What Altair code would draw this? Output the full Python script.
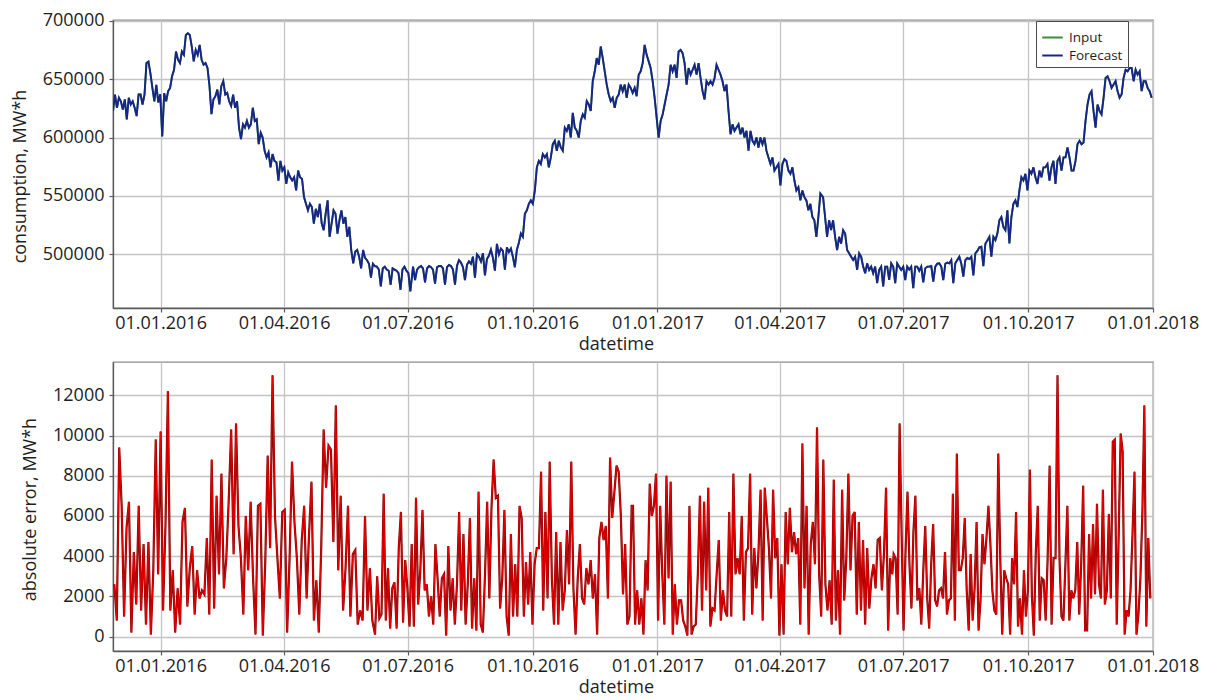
import altair as alt
import pandas as pd

# ---------------- data ----------------
# daily consumption, thousand MW*h, three consecutive stretches
cons_a_range = ("2015-11-27", "2016-07-03")
cons_a = [622.7, 636.8, 625.5, 634, 631, 624, 632.6, 615.6, 634, 628.3, 631, 625.5, 618.4,
          636.8, 636.8, 628.3, 636.8, 663.7, 665, 655, 642.5, 631, 645, 630, 637, 601, 638,
          631, 639.7, 642.5, 652.4, 658, 673.6, 666.6, 663.7, 673.6, 670.8, 687.8, 689.2,
          687.8, 677.9, 665.2, 675, 670.8, 679.3, 666.6, 662.3, 663.7, 659.5, 644, 620,
          632.6, 635.4, 641, 628.3, 644, 648.2, 636.8, 638.2, 631, 627, 636.8, 625.5, 631,
          608.5, 598.6, 611.3, 608.5, 614.2, 608.5, 611.3, 625.5, 614.2, 615.6, 594.3, 604.2,
          600, 588.7, 583, 587.2, 574.5, 585.8, 580, 578.8, 563.2, 580, 571.7, 574.5, 560.3,
          570.2, 566, 563.2, 566, 554.7, 571.7, 566, 564.6, 549, 543.3, 537.7, 543.3, 540.5,
          526.3, 539, 532, 543.3, 526.3, 520.7, 534.8, 546.2, 515, 526.3, 537.7, 534.8, 517.8,
          529.2, 537.7, 526.3, 532, 515, 523.5, 503.7, 492.3, 502.2, 503.7, 498, 488, 503.7,
          497, 495, 492, 480, 492, 490, 489.5, 487, 472.5, 488, 489.5, 487, 486, 474, 488,
          487, 486, 484, 469.7, 487, 489.5, 486, 484, 468.3]

cons_b_range = ("2016-07-05", "2017-05-01")
cons_b = [489.5, 478, 487, 489, 490, 488, 476, 488, 490, 489, 487, 475, 489, 490, 490, 488,
          474, 489, 491, 490, 487, 474, 490, 495, 493, 489, 478, 491, 494, 492, 498, 480,
          500, 498, 494, 501, 482, 496, 499, 504, 497, 486, 509, 500, 505, 503, 487, 506,
          502, 505, 498, 489, 504, 510, 517.8, 515, 534.8, 537.7, 543.3, 546.2, 543.3, 554.7,
          574.5, 580, 577.3, 585.8, 583, 585.8, 574.5, 583, 594.3, 597.2, 588.7, 597.2, 591.5,
          588.7, 608.5, 605.7, 611.3, 600, 621.2, 608.5, 605.7, 600, 614.2, 619.8, 617, 631.2,
          628.3, 622.7, 648.2, 656.7, 668, 662.3, 677.9, 668, 656.7, 645.3, 636.8, 631.2, 634,
          625.5, 634, 636.8, 645.3, 639.7, 645.3, 634, 645.3, 642.5, 638.2, 642.5, 635.4,
          653.8, 656.7, 663.7, 679.3, 670.8, 665.2, 659.5, 648.2, 634, 617, 600, 614.2, 619.8,
          628.3, 636.8, 645.3, 662.3, 656.7, 662.3, 651, 673.6, 675, 672.2, 663.7, 645.3,
          659.5, 653.8, 658, 662.3, 653.8, 663.7, 651, 639.7, 632.6, 648.2, 645.3, 648.2,
          645.3, 651, 662.3, 658, 653.8, 648.2, 639.7, 645.3, 622.7, 602.8, 611.3, 605.7,
          608.5, 611.3, 602.8, 608.5, 600, 605.7, 588.7, 605.7, 597.2, 594.3, 600, 591.5, 600,
          594.3, 600, 588.7, 583, 577.3, 583, 571.7, 574.5, 577.3, 559, 577.3, 581.5, 580,
          571.7, 569, 574.5, 563.2, 554.7, 557.5, 546.2, 554.7, 549, 546.2, 537.7, 543.3, 532,
          529.2, 515, 532, 552]

cons_c_range = ("2017-05-03", "2017-12-31")
cons_c = [549, 532, 515, 529.2, 520.7, 529.2, 515, 503.7, 515, 509.3, 520.7, 517.8, 503.7,
          500.9, 498, 495.2, 498, 486.7, 500.9, 498, 489.5, 483.8, 492.3, 486.7, 489.5, 483.8,
          489.5, 475.3, 486.7, 489.5, 472.5, 489.5, 489.5, 478.2, 492.3, 489.5, 475.3, 492.3,
          489.5, 486.7, 489.5, 478, 489.5, 487, 489.5, 471, 489.5, 489.5, 486, 489.5, 476,
          488, 489.5, 489.5, 490, 476.7, 489.5, 492, 492.3, 489.5, 478, 492, 493, 492.3, 495.2,
          475.3, 492.3, 495.2, 498, 492, 481, 495, 497, 496, 498, 482, 500.9, 503, 506, 506.5,
          490, 509, 512, 515, 498, 515, 512.2, 517.8, 529.2, 532, 523.5, 520.7, 537.7, 509.3,
          532, 543.3, 546.2, 540.5, 554.7, 566, 563.2, 569, 554.7, 571.7, 569, 574.5, 566,
          560.3, 571.7, 566, 574.5, 574.5, 577.3, 563.2, 574.5, 580, 560.3, 580, 583, 571.7,
          583, 583, 591.5, 583, 571.7, 571.7, 580, 594.3, 597.2, 594.3, 595.7, 614.2, 628.3,
          636.8, 639.7, 622.7, 608.5, 628.3, 622.7, 619.8, 634, 651, 652.4, 648.2, 642.5, 645.3,
          648.2, 639.7, 634, 636.8, 651, 658, 656.7, 659.5, 659.5, 648.2, 658, 653.8, 656.7,
          639.7, 648.2, 648.2, 642.5, 639.7, 634]

# absolute error, thousand MW*h, four consecutive stretches
err_1_range = ("2015-11-28", "2016-06-05")
err_1 = [2.6, 0.8, 9.4, 6.5, 1.0, 5.4, 6.7, 0.2, 4.2, 1.6, 6.5, 1.3, 4.6, 0.6, 4.7, 0.1, 3.3,
         9.8, 3.1, 10.2, 1.3, 5.5, 12.2, 1.3, 3.3, 0.2, 2.4, 0.6, 5.7, 6.4, 1.5, 3.4, 4.5, 1.1,
         3.3, 1.9, 2.3, 2.1, 4.9, 1.1, 8.8, 1.4, 7.0, 3.1, 8.1, 2.4, 3.9, 6.8, 10.3, 4.1, 10.6,
         5.5, 3.9, 1.1, 6.0, 3.3, 6.7, 2.9, 0.1, 6.5, 6.6, 0.05, 3.7, 9.0, 4.4, 13.0, 6.0, 3.9,
         1.9, 6.2, 6.3, 0.2, 3.9, 8.7, 5.7, 3.9, 1.1, 4.8, 6.5, 1.9, 5.1, 7.7, 0.8, 2.8, 0.2,
         4.4, 10.3, 7.4, 9.5, 9.3, 4.7, 11.5, 3.3, 7.0, 1.3, 3.4, 6.5, 1.0, 4.1, 4.3, 0.6, 1.3,
         0.8, 6.0, 1.3, 3.4, 0.8]

err_2_range = ("2016-06-07", "2016-12-13")
err_2 = [0.1, 3.0, 0.9, 1.1, 7.1, 0.8, 3.4, 0.4, 2.4, 2.7, 0.4, 4.4, 6.2, 0.7, 3.8, 2.4, 0.5,
         4.6, 0.5, 6.9, 1.6, 3.3, 6.3, 2.3, 2.6, 1.0, 2.0, 0.6, 4.6, 2.9, 1.0, 2.9, 3.1, 0.05,
         4.5, 1.3, 2.9, 0.6, 2.6, 6.2, 1.3, 5.1, 0.6, 2.6, 5.9, 0.4, 2.9, 0.3, 7.2, 0.6, 0.2,
         3.1, 6.7, 1.9, 6.4, 8.8, 6.9, 7.0, 1.4, 2.9, 6.3, 1.0, 0.05, 5.1, 1.0, 3.6, 1.0, 6.5,
         5.9, 1.0, 3.7, 1.6, 4.2, 0.6, 3.6, 4.4, 4.4, 8.2, 1.3, 6.2, 1.9, 8.7, 2.9, 0.6, 5.2,
         0.6, 4.7, 1.3, 2.3, 5.3, 2.6, 8.7, 2.4, 0.1, 2.9, 4.6, 1.9, 1.6, 3.4, 2.6, 3.8, 1.9,
         3.1, 0.1, 4.9, 5.7, 4.8, 5.5, 1.9, 8.9, 5.9, 7.2, 8.5, 8.2, 6.0, 2.1, 4.6, 0.6, 1.0,
         6.5]

err_3_range = ("2016-12-14", "2017-06-23")
err_3 = [6.5, 0.6, 2.3, 0.6, 1.9, 0.1, 3.8, 2.3, 7.6, 6.0, 6.5, 8.1, 0.8, 6.5, 3.1, 0.6, 8.0,
         2.9, 7.7, 0.1, 2.6, 0.6, 1.8, 1.8, 0.8, 0.5, 0.05, 6.5, 0.1, 0.5, 0.6, 3.1, 7.0, 1.3,
         6.7, 2.3, 7.4, 0.5, 1.4, 1.3, 3.1, 4.8, 0.8, 2.3, 1.3, 1.0, 6.2, 1.0, 8.1, 3.1, 3.9,
         3.1, 6.0, 0.8, 4.2, 4.4, 8.1, 1.1, 4.4, 2.4, 4.2, 7.3, 0.8, 7.4, 5.9, 4.4, 1.9, 7.3,
         3.9, 4.9, 0.05, 3.6, 0.1, 6.2, 3.6, 6.4, 4.2, 5.2, 4.1, 4.9, 0.6, 9.6, 2.4, 6.5, 0.1,
         4.6, 5.7, 3.6, 10.4, 3.1, 1.0, 8.8, 2.6, 1.3, 2.8, 0.6, 7.8, 0.8, 3.3, 0.1, 7.3, 1.8,
         3.9, 8.1, 3.3, 6.0, 6.2, 1.1, 5.7, 1.3, 4.8, 0.6, 4.4, 1.4, 2.9, 3.6, 2.4, 4.8, 4.9,
         2.3, 4.1, 7.4, 0.3, 3.9, 3.1]

err_4_range = ("2017-06-24", "2017-12-30")
err_4 = [4.1, 3.9, 1.1, 10.6, 5.2, 0.3, 4.2, 7.2, 3.6, 1.4, 5.2, 7.0, 1.8, 2.4, 0.6, 3.3, 5.5,
         1.9, 0.4, 3.6, 5.6, 1.8, 1.5, 2.3, 2.4, 1.9, 4.2, 1.1, 1.8, 1.9, 7.1, 0.8, 9.1, 3.3,
         3.3, 3.9, 5.9, 2.3, 0.3, 4.1, 0.8, 2.4, 5.7, 0.3, 1.8, 5.1, 3.6, 4.9, 6.5, 4.6, 2.3,
         1.3, 1.1, 9.1, 3.9, 0.1, 3.3, 2.9, 2.6, 0.1, 3.9, 2.6, 6.2, 0.5, 1.9, 0.1, 3.3, 1.0,
         2.3, 8.3, 2.1, 0.05, 4.2, 6.5, 0.8, 2.9, 2.8, 0.8, 3.9, 8.5, 0.6, 3.9, 3.9, 13.0, 3.9,
         1.0, 0.8, 3.6, 6.5, 0.8, 2.3, 1.9, 2.3, 4.7, 1.1, 3.6, 7.5, 0.3, 0.3, 5.1, 1.9, 5.6,
         2.1, 6.6, 2.6, 1.9, 7.3, 1.6, 2.3, 6.1, 1.9, 9.7, 9.8, 0.6, 5.1, 10.1, 9.2, 0.1, 1.3,
         1.0, 2.3, 5.1, 8.2, 0.1, 1.1, 2.9, 6.2, 11.5, 0.5, 4.9, 1.9]

series_names = ["Input", "Forecast"]
series_colors = ["#3c8c3c", "#17258a"]
cons_ticks = [500000, 550000, 600000, 650000, 700000]
err_ticks = [0, 2000, 4000, 6000, 8000, 10000, 12000]
quarter_ticks = [(2016, 1), (2016, 4), (2016, 7), (2016, 10), (2017, 1), (2017, 4),
                 (2017, 7), (2017, 10), (2018, 1)]


def stretch(rng, vals):
    dates = pd.date_range(rng[0], rng[1], periods=len(vals))
    return pd.DataFrame({"date": dates, "value": [v * 1000 for v in vals]})


cons = pd.concat([stretch(cons_a_range, cons_a), stretch(cons_b_range, cons_b),
                  stretch(cons_c_range, cons_c)], ignore_index=True)
# the two series coincide at the drawn resolution
cons_long = pd.concat([cons.assign(series=s) for s in series_names], ignore_index=True)
err = pd.concat([stretch(err_1_range, err_1), stretch(err_2_range, err_2),
                 stretch(err_3_range, err_3), stretch(err_4_range, err_4)],
                ignore_index=True)

# ---------------- chart ----------------
FONT = "Open Sans"
TXT = "#1e1e1e"
x_domain = [alt.DateTime(year=2015, month=11, date=27), alt.DateTime(year=2018, month=1, date=1)]
x_values = [alt.DateTime(year=y, month=m, date=1) for y, m in quarter_ticks]


def x_enc():
    return alt.X("date:T", scale=alt.Scale(domain=x_domain),
                 axis=alt.Axis(values=x_values, format="%d.%m.%Y", title="datetime",
                               titleX=503, labelFlush=False, labelOverlap=False,
                               labelPadding=2, titlePadding=3))


y_top = alt.Y("value:Q", scale=alt.Scale(domain=[454100, 700600], nice=False, zero=False),
              axis=alt.Axis(values=cons_ticks, format="d", title="consumption, MW*h",
                            labelFlush=False, labelOverlap=False, titlePadding=13,
                            titleY=156))

color_enc = alt.Color(
    "series:N",
    scale=alt.Scale(domain=series_names, range=series_colors),
    legend=alt.Legend(title=None, orient="none", legendX=923, legendY=1,
                      symbolType="stroke", symbolSize=420, symbolStrokeWidth=2,
                      labelFontSize=13.5, labelFont=FONT, labelColor=TXT,
                      labelExpr="datum.label + '\u2003\u2003\u2003\u2003\u2003\u2003'",
                      labelLimit=300,
                      strokeColor="#4a4a4a", fillColor="white", padding=5,
                      rowPadding=0, labelOffset=5))

base_top = alt.Chart(cons_long).mark_line(strokeWidth=1.9, clip=True).encode(
    x=x_enc(), y=y_top, color=color_enc)
input_line = base_top.transform_filter(alt.datum.series == "Input")
forecast_line = base_top.transform_filter(alt.datum.series == "Forecast")

top = alt.layer(input_line, forecast_line).properties(width=1040, height=288)

y_bot = alt.Y("value:Q", scale=alt.Scale(domain=[-720, 13660], nice=False, zero=False),
              axis=alt.Axis(values=err_ticks, format="d", title="absolute error, MW*h",
                            labelFlush=False, labelOverlap=False, titlePadding=13,
                            titleY=147))

err_dark = alt.Chart(err).mark_line(color="#8e0000", strokeWidth=2.2, clip=True).encode(
    x=x_enc(), y=y_bot)
err_bright = alt.Chart(err).mark_line(color="#ea0000", strokeWidth=1.0, clip=True).encode(
    x=x_enc(), y=y_bot)
bottom = alt.layer(err_dark, err_bright).properties(width=1040, height=289)

chart = alt.vconcat(top, bottom, spacing=54, bounds="flush").properties(
    padding={"left": 2, "top": 3, "right": 5, "bottom": 0}
).configure(background="white").configure_view(
    stroke="#8c8c8c", strokeWidth=1.3
).configure_axis(
    labelFont=FONT, labelFontSize=18, labelColor=TXT, titleFont=FONT, titleFontSize=18,
    titleFontWeight="normal", titleColor=TXT, gridColor="#c4c4c4", gridWidth=1.3,
    domainColor="#5a5a5a", domainWidth=1.3, tickColor="#5a5a5a", tickSize=4,
    tickWidth=1.2
).configure_axisY(labelPadding=5)

chart.save("out.html", embed_options={"renderer": "svg", "actions": False})
